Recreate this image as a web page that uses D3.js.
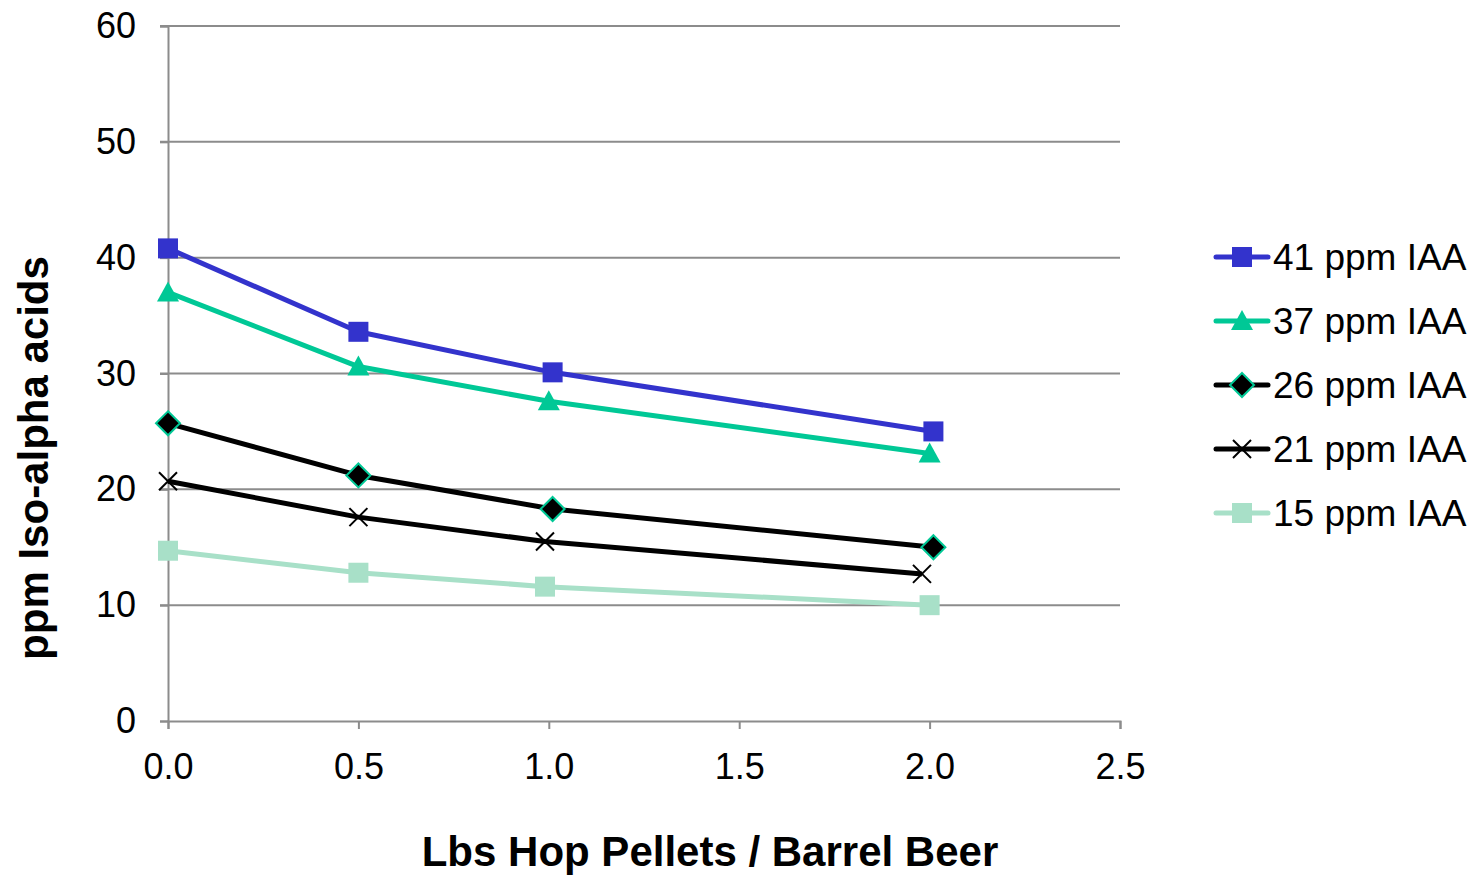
<!DOCTYPE html>
<html>
<head>
<meta charset="utf-8">
<script src="https://cdn.jsdelivr.net/npm/d3@7"></script>
<style>
  html, body { margin: 0; padding: 0; background: #fff; }
  svg { display: block; font-family: "Liberation Sans", Arial, sans-serif; }
</style>
</head>
<body>
<svg id="chart" width="1474" height="878"></svg>
<script>
// Series names (legend order)
const seriesNames = ["41 ppm IAA", "37 ppm IAA", "26 ppm IAA", "21 ppm IAA", "15 ppm IAA"];
// Hop dose (lbs pellets / barrel) for each series
const xValues41 = [0.0, 0.50, 1.01, 2.01];
const xValues37 = [0.0, 0.50, 1.00, 2.00];
const xValues26 = [0.0, 0.50, 1.01, 2.01];
const xValues21 = [0.0, 0.50, 0.99, 1.98];
const xValues15 = [0.0, 0.50, 0.99, 2.00];
// Measured ppm iso-alpha acids
const yValues41 = [40.8, 33.6, 30.1, 25.0];
const yValues37 = [37.0, 30.6, 27.6, 23.1];
const yValues26 = [25.7, 21.2, 18.3, 15.0];
const yValues21 = [20.7, 17.6, 15.5, 12.7];
const yValues15 = [14.7, 12.8, 11.6, 10.0];
// Axis ticks
const xTicks = [0, 0.5, 1.0, 1.5, 2.0, 2.5];
const yTicks = [0, 10, 20, 30, 40, 50, 60];

const series = [
  { name: seriesNames[0], xs: xValues41, ys: yValues41, color: "#3333cc", width: 5, marker: "square", fill: "#3333cc", stroke: "none" },
  { name: seriesNames[1], xs: xValues37, ys: yValues37, color: "#00c896", width: 5, marker: "triangle", fill: "#00c896", stroke: "none" },
  { name: seriesNames[2], xs: xValues26, ys: yValues26, color: "#000000", width: 5, marker: "diamond", fill: "#000000", stroke: "#00c896" },
  { name: seriesNames[3], xs: xValues21, ys: yValues21, color: "#000000", width: 5, marker: "cross", fill: "none", stroke: "#000000" },
  { name: seriesNames[4], xs: xValues15, ys: yValues15, color: "#a8e0c8", width: 5, marker: "square", fill: "#a8e0c8", stroke: "none" }
];

const svg = d3.select("#chart");
const plotLeft = 168, plotRight = 1120, plotTop = 26, plotBottom = 721;

const x = d3.scaleLinear().domain([0, 2.5]).range([plotLeft, plotRight]);
const y = d3.scaleLinear().domain([0, 60]).range([plotBottom, plotTop]);

const gridColor = "#8c8c8c";

// Horizontal gridlines
svg.append("g")
  .selectAll("line")
  .data(yTicks.filter(d => d > 0))
  .join("line")
  .attr("x1", plotLeft - 8).attr("x2", plotRight)
  .attr("y1", d => y(d)).attr("y2", d => y(d))
  .attr("stroke", gridColor).attr("stroke-width", 2);

// Y axis
const yAxis = svg.append("g")
  .attr("transform", `translate(${plotLeft},0)`)
  .call(d3.axisLeft(y).tickValues(yTicks).tickSize(8).tickPadding(24).tickFormat(d3.format("d")));
yAxis.select(".domain").attr("stroke", gridColor).attr("stroke-width", 2);
yAxis.selectAll(".tick line").attr("stroke", gridColor).attr("stroke-width", 2);
yAxis.selectAll(".tick text")
  .attr("font-size", 36).attr("fill", "#000")
  .attr("font-family", "Liberation Sans, Arial, sans-serif");

// X axis
const xAxis = svg.append("g")
  .attr("transform", `translate(0,${plotBottom})`)
  .call(d3.axisBottom(x).tickValues(xTicks).tickSize(8).tickPadding(24).tickFormat(d3.format(".1f")));
xAxis.select(".domain").attr("stroke", gridColor).attr("stroke-width", 2);
xAxis.selectAll(".tick line").attr("stroke", gridColor).attr("stroke-width", 2);
xAxis.selectAll(".tick text")
  .attr("font-size", 36).attr("fill", "#000")
  .attr("font-family", "Liberation Sans, Arial, sans-serif");

// Marker drawing
function drawMarker(g, s, cx, cy) {
  if (s.marker === "square") {
    g.append("rect").attr("x", cx - 10).attr("y", cy - 10).attr("width", 20).attr("height", 20)
      .attr("fill", s.fill);
  } else if (s.marker === "triangle") {
    g.append("path")
      .attr("d", `M${cx},${cy - 11} L${cx + 11},${cy + 9} L${cx - 11},${cy + 9} Z`)
      .attr("fill", s.fill);
  } else if (s.marker === "diamond") {
    g.append("path")
      .attr("d", `M${cx},${cy - 12} L${cx + 12},${cy} L${cx},${cy + 12} L${cx - 12},${cy} Z`)
      .attr("fill", s.fill).attr("stroke", s.stroke).attr("stroke-width", 2);
  } else if (s.marker === "cross") {
    g.append("path")
      .attr("d", `M${cx - 9},${cy - 9} L${cx + 9},${cy + 9} M${cx + 9},${cy - 9} L${cx - 9},${cy + 9}`)
      .attr("stroke", s.stroke).attr("stroke-width", 2).attr("fill", "none");
  }
}

const line = d3.line().x(d => x(d[0])).y(d => y(d[1]));

// Series lines and markers (drawn bottom series first)
series.slice().reverse().forEach(s => {
  const pts = s.xs.map((xv, i) => [xv, s.ys[i]]);
  const g = svg.append("g");
  g.append("path").datum(pts).attr("d", line)
    .attr("fill", "none").attr("stroke", s.color).attr("stroke-width", s.width)
    .attr("stroke-linejoin", "round");
  pts.forEach(p => drawMarker(g, s, x(p[0]), y(p[1])));
});

// Legend
const legendY = d3.scalePoint().domain(seriesNames).range([257, 513]);
series.forEach(s => {
  const cy = legendY(s.name);
  const g = svg.append("g");
  g.append("line").attr("x1", 1216).attr("x2", 1268).attr("y1", cy).attr("y2", cy)
    .attr("stroke", s.color).attr("stroke-width", s.width).attr("stroke-linecap", "round");
  drawMarker(g, s, 1242, cy);
  g.append("text").attr("x", 1273).attr("y", cy).attr("dy", "0.35em")
    .attr("font-size", 37).attr("fill", "#000").text(s.name);
});

// Axis titles
svg.append("text")
  .attr("x", 710).attr("y", 866)
  .attr("text-anchor", "middle").attr("font-size", 42).attr("font-weight", "bold")
  .text("Lbs Hop Pellets / Barrel Beer");

svg.append("text")
  .attr("transform", "translate(48,458) rotate(-90)")
  .attr("text-anchor", "middle").attr("font-size", 42).attr("font-weight", "bold")
  .text("ppm Iso-alpha acids");
</script>
</body>
</html>
